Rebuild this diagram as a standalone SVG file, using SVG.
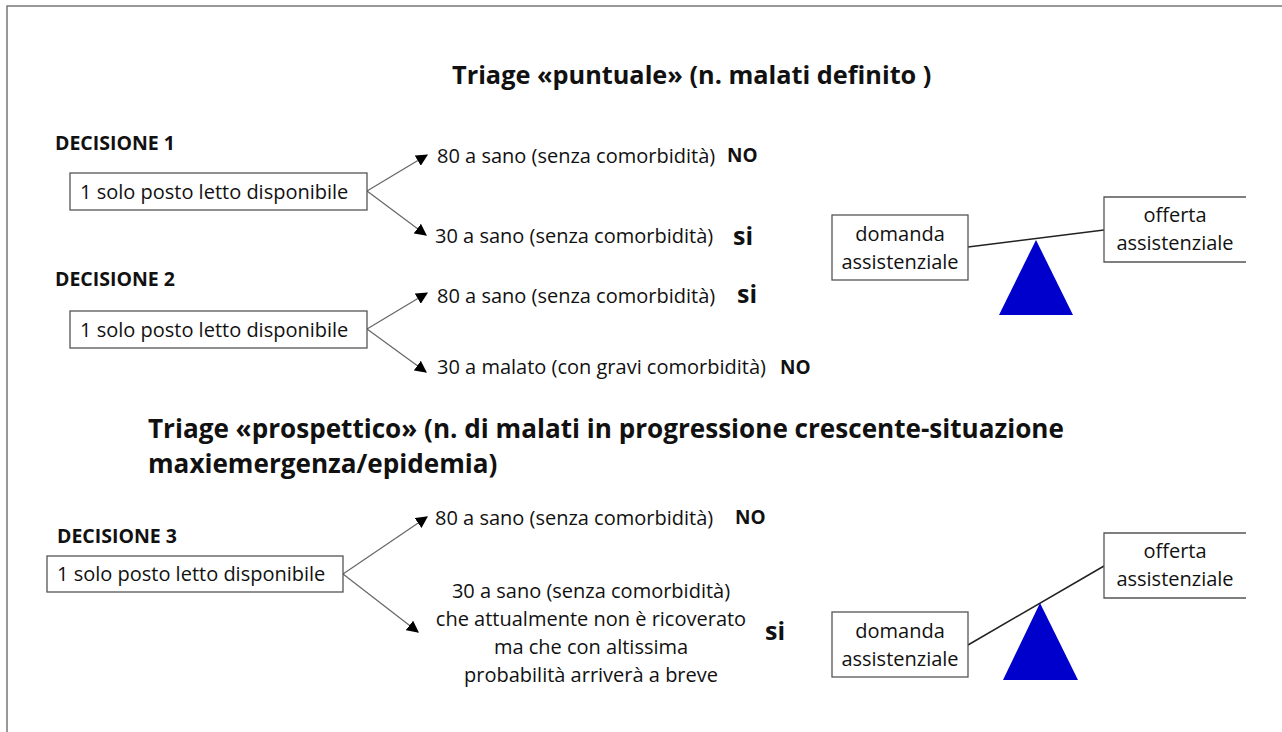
<svg xmlns="http://www.w3.org/2000/svg" width="1282" height="732" viewBox="0 0 1282 732">
<defs>
<style>
text{font-family:"Open Sans","Noto Sans","Liberation Sans",sans-serif;fill:#111}
.t{font-size:20px}
.b{font-weight:bold}
.h{font-size:25.3px;font-weight:bold}
.h2{font-size:26.1px;font-weight:bold}
.d{font-size:19.5px;font-weight:bold}
.no{font-size:19px;font-weight:bold}
.si{font-size:25px;font-weight:bold}
.box{fill:#fff;stroke:#555;stroke-width:1.3}
.c{stroke:#666;stroke-width:1.2;fill:none}
.bal{stroke:#222;stroke-width:1.5}
.tri{fill:#0000CC}
</style>
<marker id="ah" viewBox="0 0 10 10" refX="9" refY="5" markerWidth="12" markerHeight="12" markerUnits="userSpaceOnUse" orient="auto"><path d="M0,0 L10,5 L0,10 z" fill="#000"/></marker>
</defs>
<rect width="1282" height="732" fill="#fff"/>
<path d="M7,732 V6 H1282" fill="none" stroke="#777" stroke-width="1.5"/>

<text class="h" x="452" y="84">Triage «puntuale» (n. malati definito )</text>
<text class="h2" x="148" y="438">Triage «prospettico» (n. di malati in progressione crescente-situazione</text>
<text class="h2" x="148" y="473">maxiemergenza/epidemia)</text>

<g id="connectors">
<line class="c" x1="367" y1="191" x2="427" y2="155" marker-end="url(#ah)"/>
<line class="c" x1="367" y1="191" x2="426" y2="235" marker-end="url(#ah)"/>
<line class="c" x1="367" y1="329" x2="427" y2="293" marker-end="url(#ah)"/>
<line class="c" x1="367" y1="329" x2="426" y2="372" marker-end="url(#ah)"/>
<line class="c" x1="343" y1="574" x2="427" y2="517" marker-end="url(#ah)"/>
<line class="c" x1="343" y1="574" x2="418" y2="632" marker-end="url(#ah)"/>
</g>

<g id="decisione1">
<text class="d" x="55" y="150">DECISIONE 1</text>
<rect class="box" x="70" y="173" width="297" height="37"/>
<text class="t" x="80" y="199">1 solo posto letto disponibile</text>
</g>
<g id="d1-opt1">
<text class="t" x="437" y="163">80 a sano (senza comorbidità)</text>
<text class="no" x="727" y="162">NO</text>
</g>
<g id="d1-opt2">
<text class="t" x="435" y="243">30 a sano (senza comorbidità)</text>
<text class="si" x="733" y="245">si</text>
</g>

<g id="decisione2">
<text class="d" x="55" y="286">DECISIONE 2</text>
<rect class="box" x="70" y="311" width="297" height="37"/>
<text class="t" x="80" y="337">1 solo posto letto disponibile</text>
</g>
<g id="d2-opt1">
<text class="t" x="437" y="303">80 a sano (senza comorbidità)</text>
<text class="si" x="737" y="303">si</text>
</g>
<g id="d2-opt2">
<text class="t" x="437" y="374">30 a malato (con gravi comorbidità)</text>
<text class="no" x="780" y="374">NO</text>
</g>

<g id="decisione3">
<text class="d" x="57" y="543">DECISIONE 3</text>
<rect class="box" x="47" y="556" width="296" height="36"/>
<text class="t" x="57" y="581">1 solo posto letto disponibile</text>
</g>
<g id="d3-opt1">
<text class="t" x="435" y="525">80 a sano (senza comorbidità)</text>
<text class="no" x="735" y="524">NO</text>
</g>
<g id="d3-opt2">
<text class="t" text-anchor="middle" x="591" y="598">30 a sano (senza comorbidità)</text>
<text class="t" text-anchor="middle" x="591" y="626">che attualmente non è ricoverato</text>
<text class="t" text-anchor="middle" x="591" y="654">ma che con altissima</text>
<text class="t" text-anchor="middle" x="591" y="682">probabilità arriverà a breve</text>
<text class="si" x="765" y="640">si</text>
</g>

<g id="bilancia1">
<line class="bal" x1="968" y1="247" x2="1104" y2="230"/>
<polygon class="tri" points="1036,240 999,315 1073,315"/>
<rect class="box" x="832" y="215" width="136" height="65"/>
<text class="t" text-anchor="middle" x="900" y="241">domanda</text>
<text class="t" text-anchor="middle" x="900" y="269">assistenziale</text>
<path class="box" d="M1246,197 H1104 V262 H1246"/>
<text class="t" text-anchor="middle" x="1175" y="222">offerta</text>
<text class="t" text-anchor="middle" x="1175" y="250">assistenziale</text>
</g>

<g id="bilancia2">
<line class="bal" x1="968" y1="645" x2="1104" y2="566"/>
<polygon class="tri" points="1040,603 1003,680 1078,680"/>
<rect class="box" x="832" y="612" width="136" height="65"/>
<text class="t" text-anchor="middle" x="900" y="638">domanda</text>
<text class="t" text-anchor="middle" x="900" y="666">assistenziale</text>
<path class="box" d="M1246,533 H1104 V598 H1246"/>
<text class="t" text-anchor="middle" x="1175" y="558">offerta</text>
<text class="t" text-anchor="middle" x="1175" y="586">assistenziale</text>
</g>
</svg>
